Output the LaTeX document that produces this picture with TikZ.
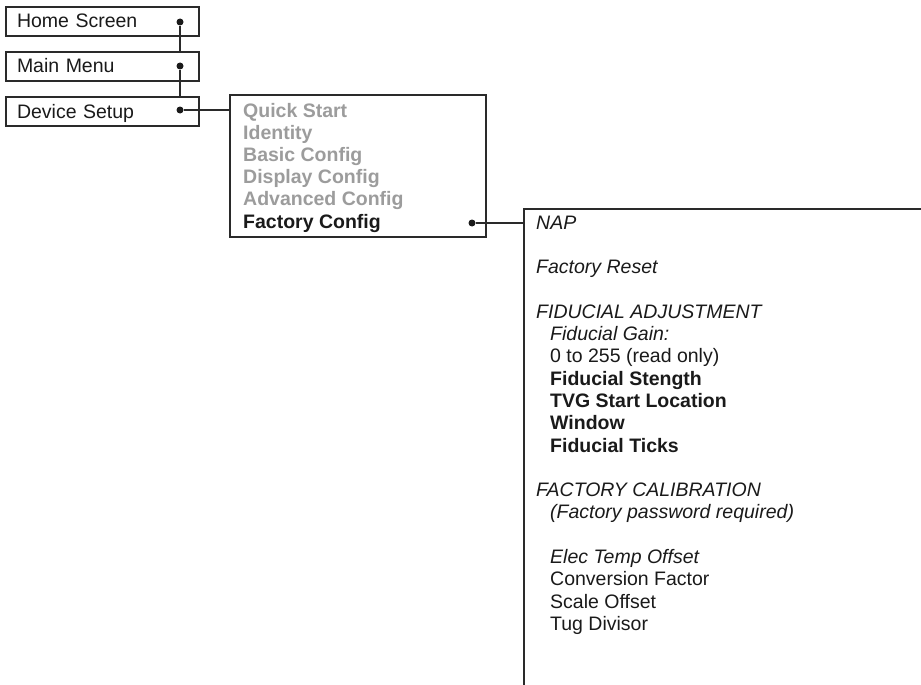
\documentclass[tikz,border=0pt]{standalone}
\usepackage{fontspec}
\setmainfont{Liberation Sans}
\usepackage{tikz}
\usetikzlibrary{positioning}

\definecolor{linec}{HTML}{2A2A2A}
\definecolor{inkc}{HTML}{1A1A1A}
\definecolor{dimc}{HTML}{9C9C9C}

\tikzset{
  wire/.style={draw=linec,line width=1.1pt},
  dot/.style={circle,fill=inkc,inner sep=0pt,minimum size=7pt},
  screenbox/.style={wire,minimum width=193,minimum height=29,text width=171,
    inner xsep=11pt,align=left,text height=13pt,text depth=0pt,text=inkc},
  menubox/.style={wire,inner sep=0pt},
  listtxt/.style={anchor=base west,inner sep=0pt,text=inkc},
}

\begin{document}
\begin{tikzpicture}[x=1pt,y=-1pt,font=\fontsize{19.5pt}{22.3pt}\selectfont]
\useasboundingbox[fill=white] (0,0) rectangle (921,685);
% left column
\node[screenbox] (home) at (102.5,21.5) {Home Screen};
\node[screenbox] (main) at (102.5,66.5) {Main Menu};
\node[screenbox] (dev) at (102.5,111.5) {Device Setup};
\node[dot] (home-dot) at (180,22) {};
\node[dot] (main-dot) at (180,66) {};
\node[dot] (dev-dot) at (180,110) {};
\draw[wire] (home-dot) -- (home-dot |- main.north);
\draw[wire] (main-dot) -- (main-dot |- dev.north);
% device setup menu
\node[menubox,minimum width=256,minimum height=142] (setup) at (358,166) {};
\draw[wire] (dev-dot) -- (dev-dot -| setup.west);
\foreach \txt [count=\i from 0] in {Quick Start,Identity,Basic Config,Display Config,Advanced Config}{
  \node[listtxt,text=dimc] (sub-\i) at (243,117+22.2*\i) {\bfseries \txt};
};
\node[listtxt] (sub-5) at (243,228) {\bfseries Factory Config};
\node[dot] (fac-dot) at (472,223) {};
% factory config panel
\coordinate (fac-tl) at (524,209);
\coordinate (fac-tr) at (921,209);
\coordinate (fac-bl) at (524,685);
\draw[wire] (fac-tr) -- (fac-tl) -- (fac-bl);
\draw[wire] (fac-dot) -- (fac-dot -| fac-tl);
\foreach \k/\dx/\f/\txt in {0/0/\itshape/NAP,
    2/0/\itshape/Factory Reset,
    4/0/\itshape/FIDUCIAL ADJUSTMENT,
    5/14/\itshape/Fiducial Gain:,
    6/14/\upshape/0 to 255 (read only),
    7/14/\bfseries/Fiducial Stength,
    8/14/\bfseries/TVG Start Location,
    9/14/\bfseries/Window,
    10/14/\bfseries/Fiducial Ticks,
    12/0/\itshape/FACTORY CALIBRATION,
    13/14/\itshape/(Factory password required),
    15/14/\itshape/Elec Temp Offset,
    16/14/\upshape/Conversion Factor,
    17/14/\upshape/Scale Offset,
    18/14/\upshape/Tug Divisor}{
  \node[listtxt] (fac-\k) at (536+\dx,229+22.3*\k) {\f \txt};
};
\end{tikzpicture}
\end{document}
